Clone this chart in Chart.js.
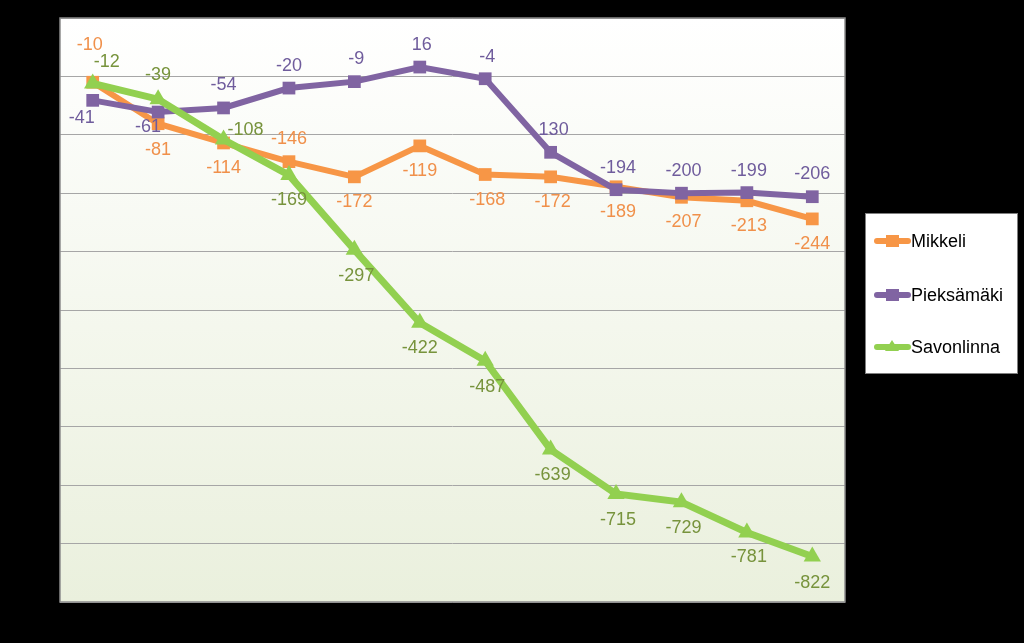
<!DOCTYPE html>
<html>
<head>
<meta charset="utf-8">
<script src="https://cdn.jsdelivr.net/npm/chart.js@4"></script>
<style>
  html, body { margin: 0; padding: 0; background: #000; }
  #wrap { width: 1024px; height: 643px; position: relative; }
</style>
</head>
<body>
<div id="wrap"><canvas id="chart"></canvas></div>
<script>
// Data
const categories = ['1', '2', '3', '4', '5', '6', '7', '8', '9', '10', '11', '12'];
const seriesNames = ['Mikkeli', 'Pieksämäki', 'Savonlinna'];
const mikkeli = [-10, -81, -114, -146, -172, -119, -168, -172, -189, -207, -213, -244];
const pieksamaki = [-41, -61, -54, -20, -9, 16, -4, -130, -194, -200, -199, -206];
const savonlinna = [-12, -39, -108, -169, -297, -422, -487, -639, -715, -729, -781, -822];
const yTicks = [100, 0, -100, -200, -300, -400, -500, -600, -700, -800, -900];

// label text as printed (one label shows no minus sign)
const labelOverrides = { 1: { 7: '130' } };

// label placement per point: [dx, dy] from the marker
const labelOffsets = [
  [[-3, -37], [0, 26], [0, 25], [0, -23], [0, 25], [0, 25], [2, 26], [2, 25], [2, 25], [2, 25], [2, 25], [0, 25]],
  [[-11, 18], [-10, 15], [0, -23], [0, -22], [2, -23], [2, -22], [2, -22], [3, -22], [2, -22], [2, -22], [2, -22], [0, -23]],
  [[14, -21], [0, -24], [22, -9], [0, 25], [2, 26], [0, 25], [2, 26], [2, 25], [2, 26], [2, 26], [2, 25], [0, 27]]
];

const lineColors = ['#F79646', '#8064A2', '#92D050'];
const labelColors = ['#F0904A', '#6F5C9C', '#77933C'];
const pointStyles = ['rect', 'rect', 'triangle'];

const FONT = "'Liberation Sans', Arial, sans-serif";

const plotBackground = {
  id: 'plotBackground',
  beforeDraw(chart) {
    const { ctx, chartArea: a } = chart;
    ctx.save();
    ctx.fillStyle = '#000';
    ctx.fillRect(0, 0, chart.width, chart.height);
    const g = ctx.createLinearGradient(0, a.top, 0, a.bottom);
    g.addColorStop(0, '#FFFFFF');
    g.addColorStop(1, '#EAF0DD');
    ctx.fillStyle = g;
    ctx.fillRect(a.left, a.top, a.right - a.left, a.bottom - a.top);
    ctx.restore();
  },
  afterDraw(chart) {
    const { ctx, chartArea: a } = chart;
    ctx.save();
    ctx.strokeStyle = '#8C8C8C';
    ctx.lineWidth = 1.5;
    ctx.strokeRect(a.left, a.top, a.right - a.left, a.bottom - a.top);
    ctx.restore();
  }
};

const pointLabels = {
  id: 'pointLabels',
  afterDatasetsDraw(chart) {
    const ctx = chart.ctx;
    ctx.save();
    ctx.font = '18px ' + FONT;
    ctx.textAlign = 'center';
    ctx.textBaseline = 'middle';
    chart.data.datasets.forEach((ds, i) => {
      const meta = chart.getDatasetMeta(i);
      meta.data.forEach((pt, j) => {
        const off = labelOffsets[i][j];
        const over = labelOverrides[i] && labelOverrides[i][j];
        const text = over !== undefined ? over : String(ds.data[j]);
        ctx.fillStyle = labelColors[i];
        ctx.fillText(text, pt.x + off[0], pt.y + off[1]);
      });
    });
    ctx.restore();
  }
};

const boxLegend = {
  id: 'boxLegend',
  afterDraw(chart) {
    const ctx = chart.ctx;
    const left = 865, top = 213, w = 152, h = 160;
    ctx.save();
    ctx.fillStyle = '#FFFFFF';
    ctx.fillRect(left, top, w, h);
    ctx.strokeStyle = '#7F7F7F';
    ctx.lineWidth = 1;
    ctx.strokeRect(left + 0.5, top + 0.5, w, h);
    const rows = [241, 295, 347];
    chart.data.datasets.forEach((ds, i) => {
      const y = rows[i];
      ctx.strokeStyle = lineColors[i];
      ctx.lineWidth = 6;
      ctx.lineCap = 'round';
      ctx.beginPath();
      ctx.moveTo(877, y);
      ctx.lineTo(908, y);
      ctx.stroke();
      ctx.fillStyle = lineColors[i];
      if (pointStyles[i] === 'rect') {
        ctx.fillRect(886, y - 6, 13, 12);
      } else {
        ctx.beginPath();
        ctx.moveTo(892, y - 7);
        ctx.lineTo(899, y + 4);
        ctx.lineTo(885, y + 4);
        ctx.closePath();
        ctx.fill();
      }
      ctx.fillStyle = '#000';
      ctx.font = '18px ' + FONT;
      ctx.textAlign = 'left';
      ctx.textBaseline = 'middle';
      ctx.fillText(seriesNames[i], 911, y + 1);
    });
    ctx.restore();
  }
};

const seriesData = [mikkeli, pieksamaki, savonlinna];

new Chart(document.getElementById('chart'), {
  type: 'line',
  data: {
    labels: categories,
    datasets: seriesData.map((d, i) => ({
      label: seriesNames[i],
      data: d,
      borderColor: lineColors[i],
      backgroundColor: lineColors[i],
      borderWidth: i === 2 ? 7 : 6,
      pointStyle: pointStyles[i],
      pointRadius: i === 2 ? 10 : 9,
      pointBorderWidth: 0,
      tension: 0,
      order: 3 - i
    }))
  },
  options: {
    responsive: true,
    maintainAspectRatio: false,
    animation: false,
    layout: { padding: { left: 60, top: 18, right: 179, bottom: 41 } },
    scales: {
      x: {
        offset: true,
        ticks: { display: false },
        grid: { display: false, drawTicks: false },
        border: { display: false }
      },
      y: {
        min: Math.min(...yTicks),
        max: Math.max(...yTicks),
        afterBuildTicks(axis) { axis.ticks = yTicks.map(v => ({ value: v })); },
        ticks: { display: false },
        grid: { color: '#A6A6A6', lineWidth: 1, drawTicks: false },
        border: { display: false }
      }
    },
    plugins: {
      legend: { display: false },
      tooltip: { enabled: false }
    }
  },
  plugins: [plotBackground, pointLabels, boxLegend]
});
</script>
</body>
</html>
